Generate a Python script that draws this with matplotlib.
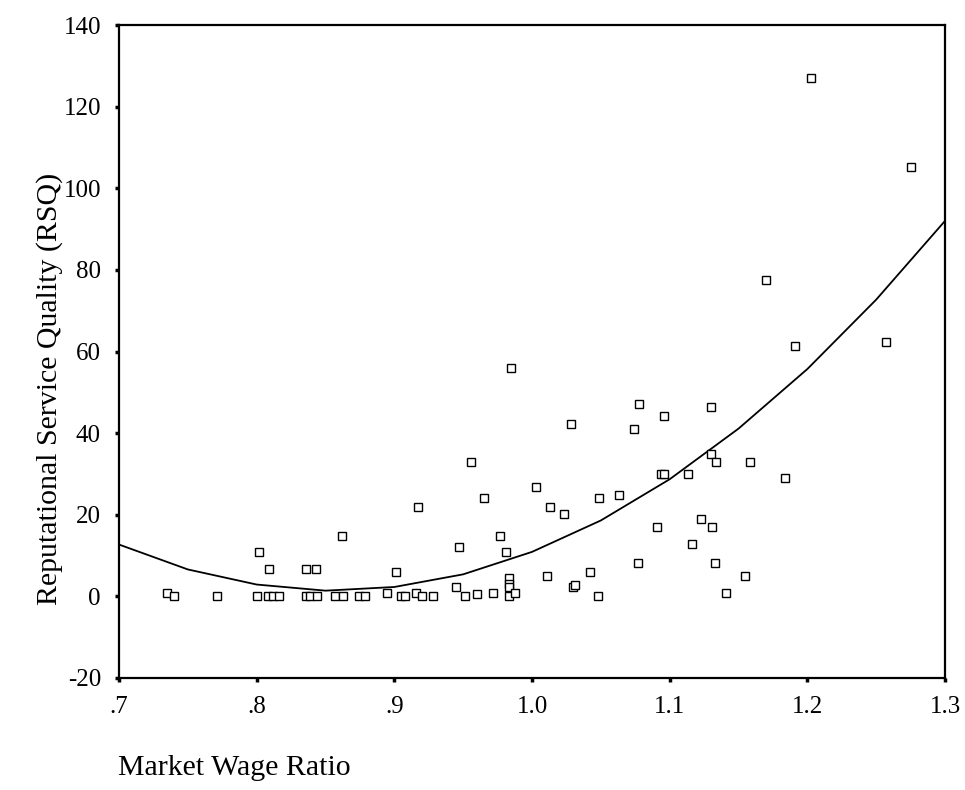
import matplotlib
matplotlib.use("Agg")
import matplotlib.pyplot as plt

# ---- data ----
wage_ratio = [0.735, 0.740, 0.771, 0.800, 0.802, 0.809, 0.808, 0.812, 0.816, 0.836,
              0.839, 0.844, 0.836, 0.843, 0.857, 0.863, 0.862, 0.874, 0.879, 0.895,
              0.901, 0.905, 0.908, 0.916, 0.920, 0.928, 0.917, 0.945, 0.947, 0.951,
              0.956, 0.960, 0.965, 0.972, 0.977, 0.981, 0.983, 0.983, 0.983, 0.983,
              0.988, 0.985, 1.003, 1.013, 1.023, 1.028, 1.011, 1.030, 1.031, 1.042,
              1.048, 1.049, 1.063, 1.074, 1.078, 1.077, 1.091, 1.094, 1.096, 1.096,
              1.113, 1.116, 1.123, 1.130, 1.130, 1.134, 1.131, 1.133, 1.141, 1.155,
              1.158, 1.170, 1.184, 1.191, 1.203, 1.257, 1.275]
rsq = [0.9, 0.0, 0.0, 0.0, 10.8, 6.8, 0.0, 0.0, 0.0, 0.0,
       0.0, 0.0, 6.8, 6.8, 0.0, 0.0, 14.8, 0.0, 0.0, 0.9,
       6.0, 0.0, 0.0, 0.9, 0.0, 0.0, 21.9, 2.2, 12.1, 0.0,
       32.9, 0.7, 24.0, 0.9, 14.8, 10.8, 4.4, 3.1, 2.3, 0.0,
       0.9, 56.0, 26.9, 22.0, 20.1, 42.3, 5.0, 2.3, 2.9, 6.0,
       0.0, 24.0, 24.9, 41.1, 47.1, 8.2, 16.9, 30.1, 30.1, 44.3,
       30.1, 12.9, 18.9, 46.3, 35.0, 33.0, 16.9, 8.2, 0.9, 5.0,
       33.0, 77.5, 28.9, 61.3, 127.1, 62.3, 105.3]

# fitted curve
curve_x = [0.70, 0.75, 0.80, 0.85, 0.90, 0.95, 1.00, 1.05, 1.10, 1.15, 1.20, 1.25, 1.30]
curve_y = [12.7, 6.6, 2.9, 1.4, 2.3, 5.4, 10.9, 18.6, 28.7, 41.1, 55.7, 72.7, 92.0]

x_ticks = [0.7, 0.8, 0.9, 1.0, 1.1, 1.2, 1.3]
x_tick_labels = [".7", ".8", ".9", "1.0", "1.1", "1.2", "1.3"]
y_ticks = [-20, 0, 20, 40, 60, 80, 100, 120, 140]
y_tick_labels = ["-20", "0", "20", "40", "60", "80", "100", "120", "140"]

plt.rcParams['font.family'] = ['Liberation Serif', 'DejaVu Serif']

fig = plt.figure(figsize=(9.65, 7.9), dpi=100)
ax = fig.add_axes([119/965, 1 - 678/790, (945-119)/965, (678-25)/790])

ax.plot(curve_x, curve_y, color='black', linewidth=1.3, zorder=2)
ax.plot(wage_ratio, rsq, linestyle='none', marker='s', markersize=5.2,
        markerfacecolor='white', markeredgecolor='black', markeredgewidth=1.0, zorder=3)

ax.set_xlim(0.7, 1.3)
ax.set_ylim(-20, 140)
ax.set_xticks(x_ticks)
ax.set_xticklabels(x_tick_labels)
ax.set_yticks(y_ticks)
ax.set_yticklabels(y_tick_labels)
ax.tick_params(direction='out', length=3, width=2.5, labelsize=18, pad=10, colors='black')

for s in ax.spines.values():
    s.set_linewidth(1.6)
    s.set_color('black')

fig.text(50/965, 1 - 389/790, "Reputational Service Quality (RSQ)", rotation=90,
         ha='center', va='center', fontsize=21.5)
fig.text(118/965, 1 - 768/790, "Market Wage Ratio", ha='left', va='center', fontsize=21.5)

fig.savefig("out.png", dpi=100, facecolor='white')
